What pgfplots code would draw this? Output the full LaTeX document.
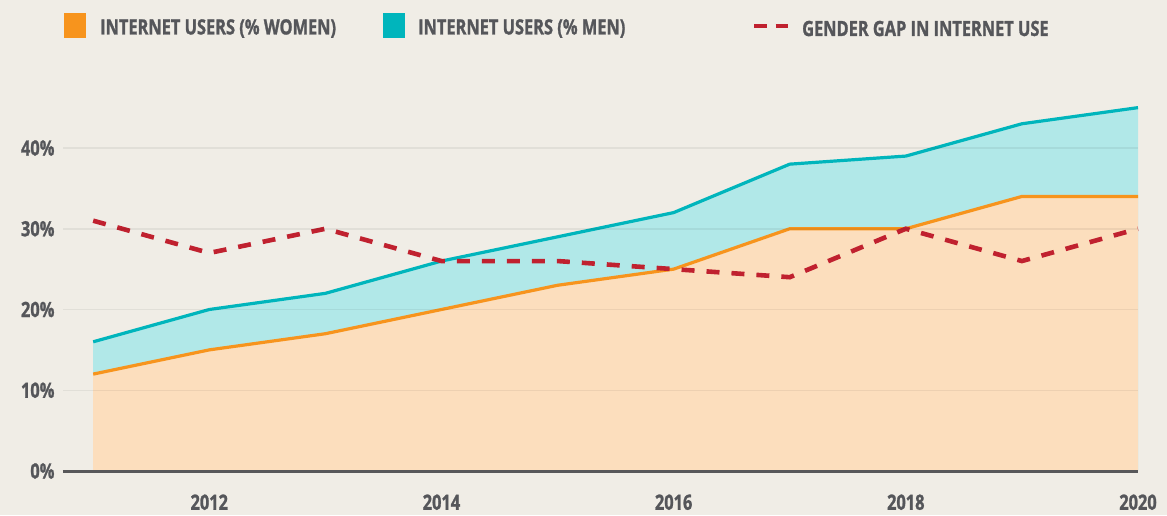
\documentclass[border=0pt]{standalone}
\usepackage{fontspec}
\setmainfont{Open Sans}[FakeStretch=0.78, BoldFeatures={FakeBold=1.2}]
\usepackage{pgfplots}
\pgfplotsset{compat=1.18}
\definecolor{bg}{HTML}{F0EDE6}
\definecolor{txt}{HTML}{55565A}
\definecolor{worange}{HTML}{F7941D}
\definecolor{wfill}{HTML}{FCDEBD}
\definecolor{mteal}{HTML}{00B5BC}
\definecolor{mfill}{HTML}{B1E8E8}
\definecolor{gapred}{HTML}{C0212F}
\definecolor{axgray}{HTML}{58585A}
\begin{document}
\begin{tikzpicture}[x=1pt,y=1pt]
\fill[bg] (0,0) rectangle (1167,515);
\path[use as bounding box] (0,0) rectangle (1167,515);
\begin{axis}[
  at={(63pt,44pt)}, anchor=origin,
  scale only axis, width=1075pt, height=387.6pt,
  xmin=2010.74, xmax=2020, ymin=0, ymax=48,
  axis x line*=bottom, axis y line*=left,
  x axis line style={line width=3pt, color=axgray},
  y axis line style={draw=none},
  major tick length=0pt,
  xtick={2012,2014,2016,2018,2020},
  xticklabels={2012,2014,2016,2018,2020},
  ytick={0,10,20,30,40},
  yticklabels={0\%,10\%,20\%,30\%,40\%},
  ymajorgrids, grid style={draw=black, opacity=0.06, line width=1.5pt},
  axis on top,
  tick label style={font=\fontsize{21}{24}\selectfont\bfseries, text=txt},
  yticklabel style={anchor=east, xshift=-5pt},
  xticklabel style={anchor=north, yshift=-20pt},
  /pgf/number format/assume math mode=true,
  clip=false,
]
\addplot[fill=mfill, draw=none] coordinates {(2011,16) (2012,20) (2013,22) (2014,26) (2015,29) (2016,32) (2017,38) (2018,39) (2019,43) (2020,45)} \closedcycle;
\addplot[fill=wfill, draw=none] coordinates {(2011,12) (2012,15) (2013,17) (2014,20) (2015,23) (2016,25) (2017,30) (2018,30) (2019,34) (2020,34)} \closedcycle;
\addplot[mteal, line width=3.2pt, line join=round] coordinates {(2011,16) (2012,20) (2013,22) (2014,26) (2015,29) (2016,32) (2017,38) (2018,39) (2019,43) (2020,45)};
\addplot[worange, line width=3.2pt, line join=round] coordinates {(2011,12) (2012,15) (2013,17) (2014,20) (2015,23) (2016,25) (2017,30) (2018,30) (2019,34) (2020,34)};
\addplot[gapred, line width=4.6pt, dash pattern=on 13pt off 12pt] coordinates {(2011,31) (2012,27) (2013,30) (2014,26) (2015,26) (2016,25) (2017,24) (2018,30) (2019,26) (2020,30)};
\end{axis}
\fill[worange] (64,477) rectangle (86,502);
\node[anchor=west, inner sep=0pt, text=txt, font=\fontsize{21}{24}\selectfont\bfseries] at (100,486.5) {INTERNET USERS (\% WOMEN)};
\fill[mteal] (383,477) rectangle (405,502);
\node[anchor=west, inner sep=0pt, text=txt, font=\fontsize{21}{24}\selectfont\bfseries] at (418,486.5) {INTERNET USERS (\% MEN)};
\draw[gapred, line width=4.6pt, dash pattern=on 12.5pt off 9pt] (754,489) -- (788,489);
\node[anchor=west, inner sep=0pt, text=txt, font=\fontsize{21}{24}\selectfont\bfseries] at (802,486.5) {GENDER GAP IN INTERNET USE};
\end{tikzpicture}
\end{document}
